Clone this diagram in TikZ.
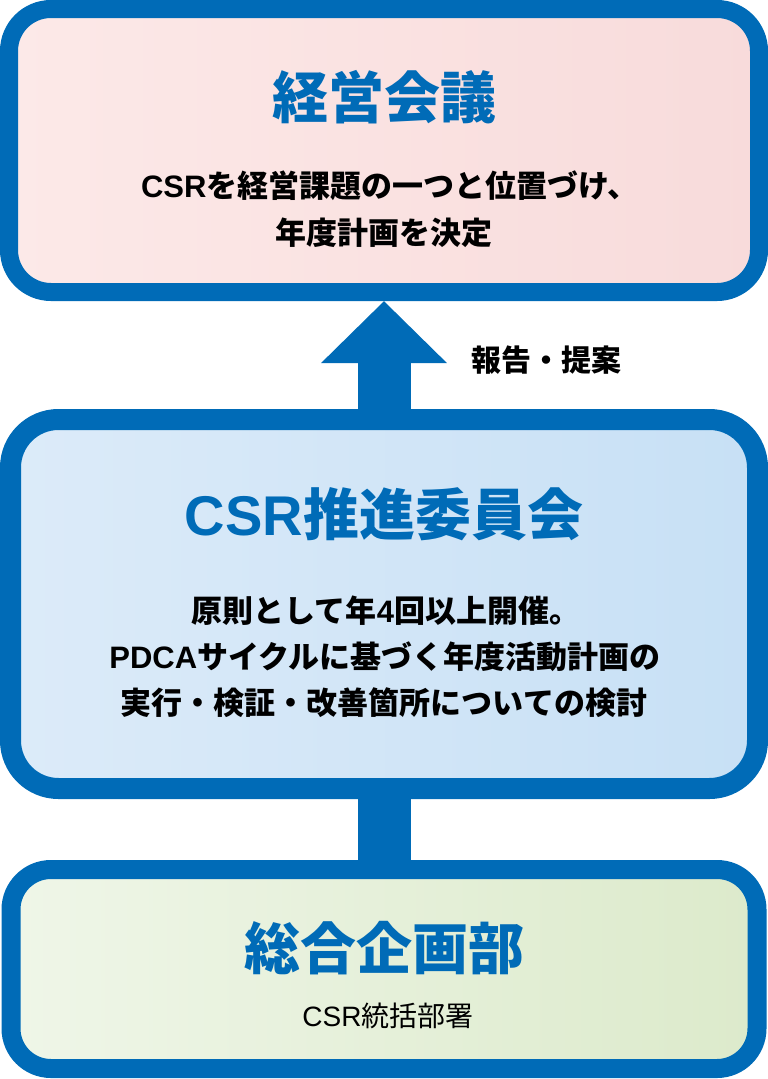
\documentclass[tikz,border=0pt]{standalone}
\usepackage{fontspec}
\setmainfont{Noto Sans CJK JP}
\newfontfamily\latfont{Liberation Sans}
\usetikzlibrary{arrows.meta}
\definecolor{csrblue}{HTML}{006BB7}
\definecolor{topL}{HTML}{FCE9E8}
\definecolor{topR}{HTML}{F8DBDB}
\definecolor{midL}{HTML}{DCEBF9}
\definecolor{midR}{HTML}{C7E0F5}
\definecolor{botL}{HTML}{EFF6E8}
\definecolor{botR}{HTML}{DCEACB}
\newcommand{\lt}[1]{{\latfont #1}}
\begin{document}
\begin{tikzpicture}[x=1pt,y=-1pt,
  box/.style={draw=csrblue, shape=rectangle, inner sep=0pt},
  title/.style={text=csrblue, font=\bfseries\fontsize{56}{56}\selectfont, anchor=base, inner sep=0pt},
  body/.style={text=black, font=\bfseries\fontsize{31}{31}\selectfont, anchor=base, inner sep=0pt},
  note/.style={text=black, font=\fontsize{28}{28}\selectfont, anchor=base, inner sep=0pt},
  conn/.style={draw=csrblue, line width=53pt}]
\useasboundingbox (0,0) rectangle (768,1079);
% boxes
\node[box, line width=18pt, rounded corners=42pt, minimum width=750pt, minimum height=283pt,
  left color=topL, right color=topR] (top) at (384,150.5) {};
\node[box, line width=21pt, rounded corners=48pt, minimum width=747pt, minimum height=369pt,
  left color=midL, right color=midR] (mid) at (384,604) {};
\node[box, line width=19pt, rounded corners=40pt, minimum width=746pt, minimum height=199pt,
  left color=botL, right color=botR] (bot) at (384,969) {};
% connectors
\draw[conn, -{Triangle[width=122pt,length=62pt]}] ([yshift=-6pt]mid.north) -- (top.south);
\draw[conn] ([yshift=6pt]mid.south) -- ([yshift=-6pt]bot.north);
% texts
\node[title] (t1) at (384,118) {経営会議};
\node[body] (t1a) at (390,197) {\lt{CSR}を経営課題の一つと位置づけ、};
\node[body] (t1b) at (384,244) {年度計画を決定};
\node[body, anchor=base west, font=\bfseries\fontsize{30}{30}\selectfont] (rep) at (471,371) {報告・提案};
\node[title] (t2) at (384,535) {\lt{CSR}推進委員会};
\node[body] (t2a) at (386,622) {原則として年\lt{4}回以上開催。};
\node[body] (t2b) at (385,668) {\lt{PDCA}サイクルに基づく年度活動計画の};
\node[body] (t2c) at (384,714) {実行・検証・改善箇所についての検討};
\node[title] (t3) at (384,969) {総合企画部};
\node[note] (t3a) at (388,1026) {\lt{\mdseries CSR}統括部署};
\end{tikzpicture}
\end{document}
